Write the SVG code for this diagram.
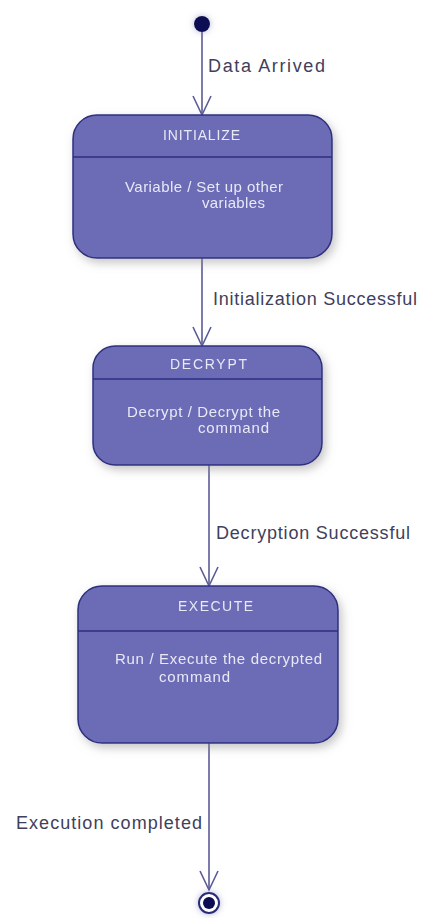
<svg xmlns="http://www.w3.org/2000/svg" width="423" height="918" viewBox="0 0 423 918">
  <defs>
    <filter id="shadow" x="-20%" y="-20%" width="140%" height="150%">
      <feDropShadow dx="3" dy="4" stdDeviation="5" flood-color="#8a8a8a" flood-opacity="0.5"/>
    </filter>
    <filter id="glow" x="-100%" y="-100%" width="300%" height="300%">
      <feDropShadow dx="0" dy="0" stdDeviation="3" flood-color="#8080c0" flood-opacity="0.6"/>
    </filter>
  </defs>
  <style>
    .state { fill: #6c6cb6; stroke: #2e2e82; stroke-width: 1.5; }
    .divider { stroke: #2e2e82; stroke-width: 1.5; }
    .title { font-family: "Liberation Sans", Arial, sans-serif; font-size: 14px; fill: #e8e8f6; }
    .body { font-family: "Liberation Sans", Arial, sans-serif; font-size: 15px; fill: #e8e8f6; }
    .label { font-family: "Liberation Sans", Arial, sans-serif; font-size: 18px; fill: #40405c; }
    .edge { stroke: #5a5a98; stroke-width: 1.6; fill: none; }
    .head { stroke: #5a5a98; stroke-width: 1.6; fill: none; stroke-linejoin: miter; }
  </style>
  <rect width="423" height="918" fill="#ffffff"/>

  <!-- transitions -->
  <g id="connectors">
    <line class="edge" x1="202" y1="30" x2="202" y2="115"/>
    <path class="head" d="M193,96 L202,115 L211,96"/>
    <text class="label" x="208" y="72" textLength="117" lengthAdjust="spacing">Data Arrived</text>

    <line class="edge" x1="202" y1="258" x2="202" y2="346"/>
    <path class="head" d="M193,327 L202,346 L211,327"/>
    <text class="label" x="213" y="305" textLength="204" lengthAdjust="spacing">Initialization Successful</text>

    <line class="edge" x1="209" y1="465" x2="209" y2="586"/>
    <path class="head" d="M200,567 L209,586 L218,567"/>
    <text class="label" x="216" y="539" textLength="194" lengthAdjust="spacing">Decryption Successful</text>

    <line class="edge" x1="209" y1="743" x2="209" y2="890"/>
    <path class="head" d="M200,871 L209,890 L218,871"/>
    <text class="label" x="16" y="829" textLength="186" lengthAdjust="spacing">Execution completed</text>
  </g>

  <!-- initial pseudo-state -->
  <g id="start">
    <circle cx="202" cy="24" r="8" fill="#0c0c52" filter="url(#glow)"/>
  </g>

  <g id="initialize" filter="url(#shadow)">
    <rect class="state" x="73" y="115" width="259" height="143" rx="24" ry="24"/>
    <line class="divider" x1="73" y1="157" x2="332" y2="157"/>
    <text class="title" x="163" y="140" textLength="77" lengthAdjust="spacing">INITIALIZE</text>
    <text class="body" x="125" y="192" textLength="158" lengthAdjust="spacing">Variable / Set up other</text>
    <text class="body" x="202" y="208" textLength="63" lengthAdjust="spacing">variables</text>
  </g>

  <g id="decrypt" filter="url(#shadow)">
    <rect class="state" x="93" y="346" width="229" height="119" rx="22" ry="22"/>
    <line class="divider" x1="93" y1="379" x2="322" y2="379"/>
    <text class="title" x="170" y="369" textLength="77" lengthAdjust="spacing">DECRYPT</text>
    <text class="body" x="127" y="417" textLength="153" lengthAdjust="spacing">Decrypt / Decrypt the</text>
    <text class="body" x="198" y="433" textLength="71" lengthAdjust="spacing">command</text>
  </g>

  <g id="execute" filter="url(#shadow)">
    <rect class="state" x="78" y="586" width="260" height="157" rx="24" ry="24"/>
    <line class="divider" x1="78" y1="631" x2="338" y2="631"/>
    <text class="title" x="178" y="611" textLength="75" lengthAdjust="spacing">EXECUTE</text>
    <text class="body" x="115" y="664" textLength="207" lengthAdjust="spacing">Run / Execute the decrypted</text>
    <text class="body" x="159" y="682" textLength="71" lengthAdjust="spacing">command</text>
  </g>

  <!-- final pseudo-state -->
  <g id="end" filter="url(#glow)">
    <circle cx="209" cy="903" r="10" fill="#ffffff" stroke="#2a2a78" stroke-width="2"/>
    <circle cx="209" cy="903" r="6" fill="#0c0c52"/>
  </g>
</svg>
